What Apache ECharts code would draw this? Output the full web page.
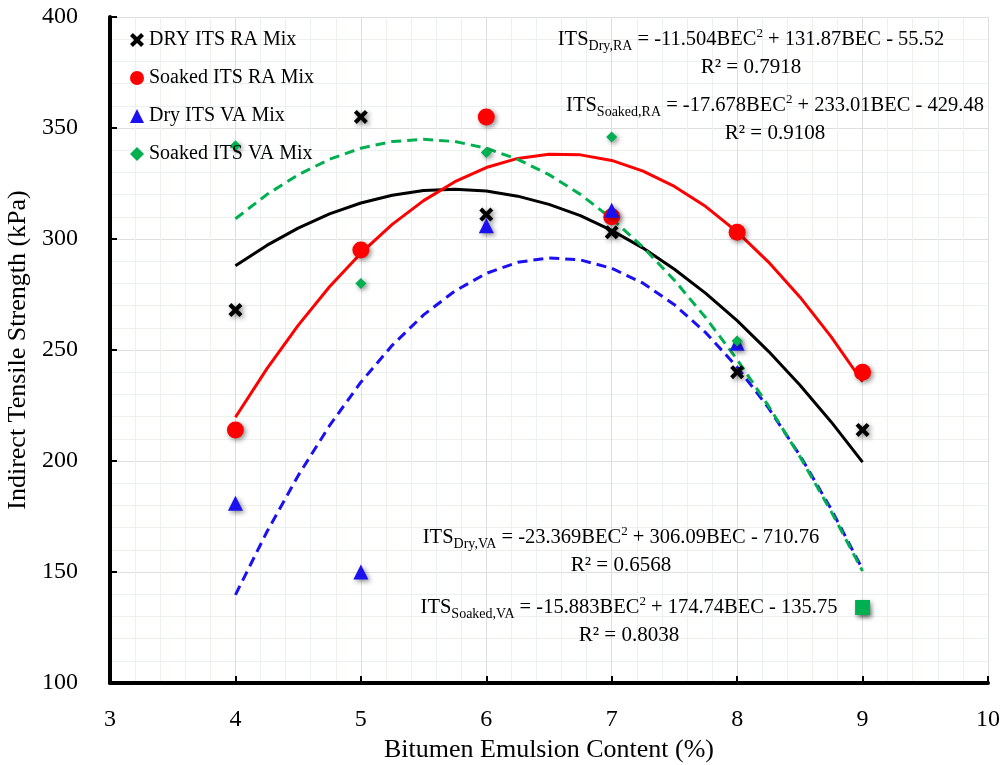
<!DOCTYPE html>
<html>
<head>
<meta charset="utf-8">
<script src="https://cdn.jsdelivr.net/npm/echarts@6/dist/echarts.min.js"></script>
<style>
html,body{margin:0;padding:0;background:#fff;}
#chart{width:1006px;height:765px;}
</style>
</head>
<body>
<div id="chart"></div>
<script>
// ---- data ----
var bec = [4, 5, 6, 7, 8, 9];
var dryRA = [268, 355, 311, 303, 240, 214];
var soakedRA = [214, 295, 355, 310, 303, 240];
var dryVA = [181, 150, 306, 313, 253, 134];
var soakedVA = [342, 280, 339, 346, 254, 134];

// trend curves (x every 0.25 from 4 to 9)
var trendX = [4, 4.25, 4.5, 4.75, 5, 5.25, 5.5, 5.75, 6, 6.25, 6.5, 6.75, 7, 7.25, 7.5, 7.75, 8, 8.25, 8.5, 8.75, 9];
var trendDryRA = [287.9, 297.1, 304.9, 311.3, 316.2, 319.7, 321.8, 322.4, 321.6, 319.3, 315.6, 310.5, 303.9, 295.9, 286.4, 275.5, 263.2, 249.4, 234.2, 217.6, 199.5];
var trendSoakedRA = [219.7, 241.5, 261.1, 278.5, 293.6, 306.6, 317.3, 325.8, 332.2, 336.3, 338.2, 337.9, 335.4, 330.6, 323.7, 314.6, 303.2, 289.6, 273.9, 255.9, 235.7];
var trendDryVA = [139.7, 168.0, 193.4, 215.9, 235.5, 252.1, 265.8, 276.6, 284.5, 289.5, 291.5, 290.6, 286.8, 280.1, 270.4, 257.8, 242.3, 223.9, 202.6, 178.3, 151.2];
var trendSoakedVA = [309.1, 320.0, 328.9, 335.9, 340.9, 343.9, 344.9, 343.9, 340.9, 335.9, 329.0, 320.1, 309.2, 296.3, 281.4, 264.5, 245.7, 224.8, 202.0, 177.2, 150.4];

var seriesNames = ['DRY ITS RA Mix', 'Soaked ITS RA Mix', 'Dry ITS VA Mix', 'Soaked ITS VA Mix'];
var xTicks = [3, 4, 5, 6, 7, 8, 9, 10];
var yTicks = [100, 150, 200, 250, 300, 350, 400];

var eqDryRA = ['Dry,RA', '-11.504BEC', ' + 131.87BEC - 55.52', '0.7918'];
var eqSoakedRA = ['Soaked,RA', '-17.678BEC', ' + 233.01BEC - 429.48', '0.9108'];
var eqDryVA = ['Dry,VA', '-23.369BEC', ' + 306.09BEC - 710.76', '0.6568'];
var eqSoakedVA = ['Soaked,VA', '-15.883BEC', ' + 174.74BEC - 135.75', '0.8038'];

// ---- build ----
var FONT = '"Liberation Serif", "DejaVu Serif", serif';
function pairs(xs, ys) { return xs.map(function (x, i) { return [x, ys[i]]; }); }
var shadow = { shadowBlur: 5, shadowColor: 'rgba(0,0,0,0.45)', shadowOffsetX: 2, shadowOffsetY: 2 };
var xPath = 'path://M0,2.5 L2.5,0 L6,3.5 L9.5,0 L12,2.5 L8.5,6 L12,9.5 L9.5,12 L6,8.5 L2.5,12 L0,9.5 L3.5,6 Z';

function trend(name, ys, color, dashed) {
  return {
    name: name + ' trend', type: 'line', data: pairs(trendX, ys), smooth: false,
    showSymbol: false, symbol: 'none', silent: true, z: 2,
    lineStyle: { color: color, width: 3, type: dashed ? [10, 6] : 'solid', join: 'round' }
  };
}
function scatter(name, ys, symbol, size, color) {
  return {
    name: name, type: 'scatter', data: pairs(bec, ys), symbol: symbol, symbolSize: size, z: 3,
    itemStyle: Object.assign({ color: color, opacity: 1 }, shadow)
  };
}

var soakedVAData = pairs(bec, soakedVA).map(function (p, i, arr) {
  return i === arr.length - 1 ? { value: p, symbol: 'rect', symbolSize: 15 } : p;
});

function eqText(eq, cx, cy) {
  return [
    {
      type: 'text', x: cx, y: cy, z: 100,
      style: {
        text: '{m|ITS}{sub|' + eq[0] + '}{m| = ' + eq[1] + '}{sup|2}{m|' + eq[2] + '}',
        align: 'center', verticalAlign: 'middle', fill: '#000',
        rich: {
          m: { fontFamily: FONT, fontSize: 20.5, lineHeight: 26, fill: '#000' },
          sub: { fontFamily: FONT, fontSize: 14, lineHeight: 16, verticalAlign: 'bottom', fill: '#000' },
          sup: { fontFamily: FONT, fontSize: 13, lineHeight: 23, verticalAlign: 'top', fill: '#000' }
        }
      }
    },
    {
      type: 'text', x: cx, y: cy + 27, z: 100,
      style: {
        text: 'R² = ' + eq[3], align: 'center', verticalAlign: 'middle',
        fontFamily: FONT, fontSize: 21, fill: '#000'
      }
    }
  ];
}

var option = {
  backgroundColor: '#fff',
  animation: false,
  grid: { left: 110, right: 18, top: 17, bottom: 82, outerBoundsMode: 'none', containLabel: false },
  legend: {
    data: seriesNames, orient: 'vertical', left: 130, top: 30, padding: 0,
    itemWidth: 14, itemHeight: 14, itemGap: 18, itemTextGap: 5,
    textStyle: { fontFamily: FONT, fontSize: 20, color: '#000' }
  },
  xAxis: {
    type: 'value', min: xTicks[0], max: xTicks[xTicks.length - 1], interval: 1,
    name: 'Bitumen Emulsion Content (%)', nameLocation: 'middle', nameGap: 47,
    nameTextStyle: { fontFamily: FONT, fontSize: 26, color: '#000' },
    axisLine: { show: true, onZero: false, lineStyle: { color: '#000', width: 4 } },
    axisTick: { show: true, inside: true, length: 7, lineStyle: { color: '#000', width: 2 } },
    axisLabel: { fontFamily: FONT, fontSize: 24, color: '#000', margin: 25 },
    splitLine: { show: true, lineStyle: { color: '#dedede', width: 1 } },
    minorTick: { show: false, splitNumber: 5 },
    minorSplitLine: { show: true, lineStyle: { color: '#ebf2eb', width: 1 } }
  },
  yAxis: {
    type: 'value', min: yTicks[0], max: yTicks[yTicks.length - 1], interval: 50,
    name: 'Indirect Tensile Strength (kPa)', nameLocation: 'middle', nameGap: 76,
    nameTextStyle: { fontFamily: FONT, fontSize: 26, color: '#000' },
    axisLine: { show: true, onZero: false, lineStyle: { color: '#000', width: 4 } },
    axisTick: { show: true, inside: true, length: 7, lineStyle: { color: '#000', width: 2 } },
    axisLabel: { fontFamily: FONT, fontSize: 24, color: '#000', margin: 32 },
    splitLine: { show: true, lineStyle: { color: '#dedede', width: 1 } },
    minorTick: { show: false, splitNumber: 5 },
    minorSplitLine: { show: true, lineStyle: { color: '#ebf2eb', width: 1 } }
  },
  series: [
    trend(seriesNames[0], trendDryRA, '#000000', false),
    trend(seriesNames[1], trendSoakedRA, '#ff0000', false),
    trend(seriesNames[2], trendDryVA, '#1a10f0', true),
    trend(seriesNames[3], trendSoakedVA, '#00b050', true),
    scatter(seriesNames[0], dryRA, xPath, 14, '#000000'),
    scatter(seriesNames[1], soakedRA, 'circle', 17, '#ff0000'),
    scatter(seriesNames[2], dryVA, 'triangle', 15, '#1a10f0'),
    Object.assign(scatter(seriesNames[3], soakedVA, 'diamond', 11, '#00b050'), { data: soakedVAData })
  ],
  graphic: [].concat(
    eqText(eqDryRA, 751, 40),
    eqText(eqSoakedRA, 775, 106),
    eqText(eqDryVA, 621, 538),
    eqText(eqSoakedVA, 629, 608)
  )
};

var chart = echarts.init(document.getElementById('chart'), null, { renderer: 'canvas' });
chart.setOption(option);
</script>
</body>
</html>
